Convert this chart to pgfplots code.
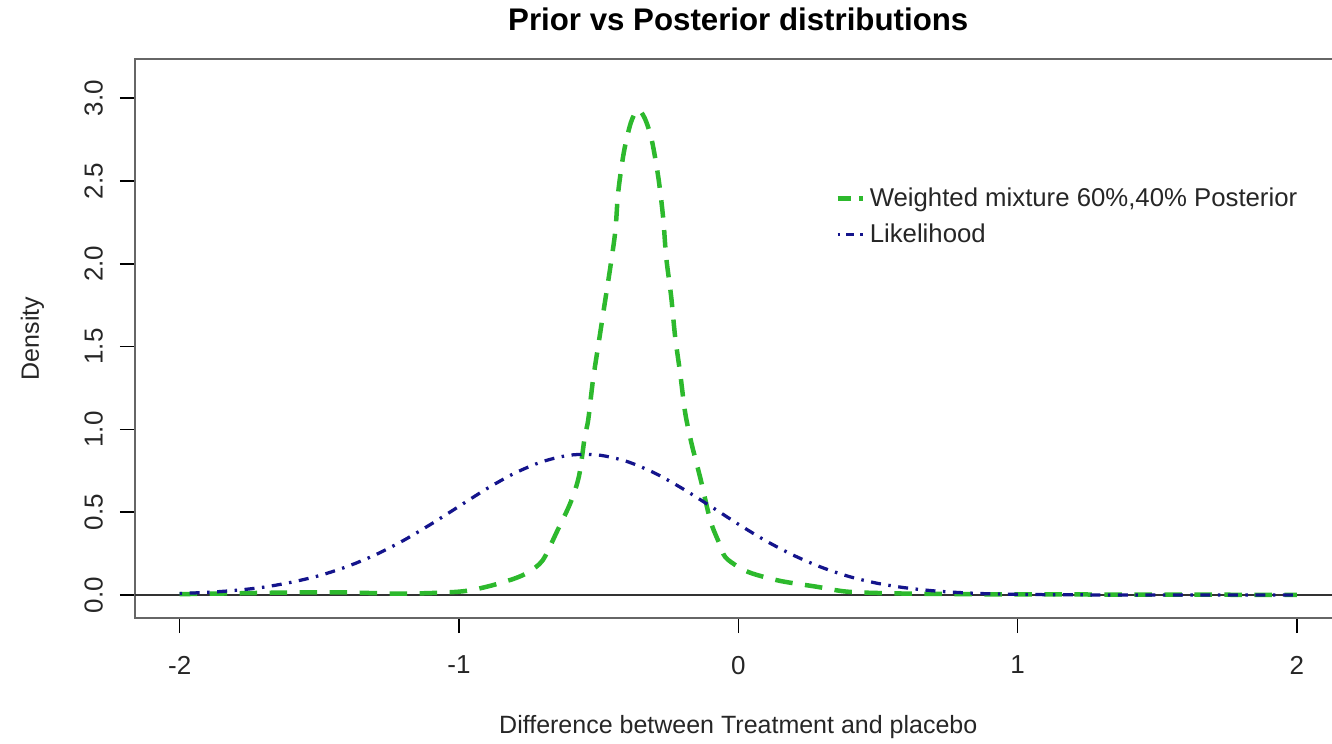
\documentclass[border=0pt]{standalone}
\usepackage{fontspec}
\setmainfont{Liberation Sans}
\usepackage{pgfplots}
\pgfplotsset{compat=1.18}
\definecolor{rgreen}{RGB}{45,185,45}
\definecolor{rblue}{RGB}{20,20,140}
\begin{document}
\begin{tikzpicture}
\begin{axis}[
  scale only axis, width=482.6pt, height=223.6pt,
  xmin=-2.16, xmax=2.16, ymin=-0.139, ymax=3.237,
  axis line style={draw=black!60, line width=1pt},
  tick align=outside, major tick length=6pt,
  tick style={black, line width=0.6pt},
  xtick={-2,-1,0,1,2}, ytick={0,0.5,1,1.5,2,2.5,3},
  xtick pos=bottom, ytick pos=left,
  /pgf/number format/assume math mode=true,
  ticklabel style={font=\fontsize{10.4}{12}\selectfont, text=black!85},
  xticklabel style={anchor=north, inner sep=0pt},
  xticklabel shift=9pt,
  yticklabel style={rotate=90, anchor=south, inner sep=0pt,
    /pgf/number format/fixed, /pgf/number format/fixed zerofill,
    /pgf/number format/precision=1},
  yticklabel shift=6.6pt,
  title={Prior vs Posterior distributions},
  title style={font=\fontsize{12.5}{14}\selectfont\bfseries, at={(axis description cs:0.5,1)}, anchor=base, yshift=5.4pt, inner sep=0pt},
  xlabel={Difference between Treatment and placebo},
  xlabel style={font=\fontsize{10}{12}\selectfont, text=black!85, at={(axis description cs:0.5,0)}, anchor=base, yshift=-46pt, inner sep=0pt},
  ylabel={Density},
  ylabel style={font=\fontsize{10}{12}\selectfont, text=black!85, at={(axis description cs:-0.0796,0.5)}, anchor=base, rotate=0, inner sep=0pt},
  legend style={draw=none, fill=none, at={(axis description cs:0.58,0.78)}, anchor=north west,
    font=\fontsize{10.3}{12}\selectfont, text=black!85, row sep=1.5pt, inner sep=0pt, cells={anchor=west}},
]
\addplot[black!80, line width=0.8pt, forget plot] coordinates {(-2.16,0) (2.16,0)};
\addplot[rgreen, line width=1.8pt, dash pattern=on 7pt off 5pt, smooth,
  legend image code/.code={\draw[rgreen, line width=1.8pt, dash pattern=on 5.5pt off 3pt] (0pt,0pt) -- (10pt,0pt);}]
coordinates {
(-2.0,0.005)(-1.8,0.01)(-1.6,0.015)(-1.4,0.015)(-1.2,0.008)(-1.0,0.02)(-0.9,0.05)(-0.8,0.1)(-0.75,0.14)(-0.7,0.21)(-0.65,0.38)(-0.6,0.56)(-0.57,0.72)(-0.55,0.95)(-0.537,1.06)(-0.52,1.3)(-0.5,1.52)(-0.48,1.74)(-0.458,1.98)(-0.44,2.2)(-0.43,2.43)(-0.41,2.67)(-0.385,2.85)(-0.36,2.93)(-0.335,2.88)(-0.31,2.75)(-0.286,2.52)(-0.269,2.28)(-0.258,2.04)(-0.24,1.8)(-0.226,1.56)(-0.208,1.34)(-0.19,1.1)(-0.168,0.92)(-0.15,0.8)(-0.132,0.68)(-0.1,0.45)(-0.07,0.32)(-0.047,0.23)(0.0,0.17)(0.05,0.13)(0.15,0.085)(0.28,0.05)(0.39,0.02)(0.55,0.01)(0.8,0.005)(1.0,0.004)(1.5,0.002)(2.0,0.001)
};
\addlegendentry{Weighted mixture 60\%,40\% Posterior}
\addplot[rblue, line width=1.3pt, dash pattern=on 1pt off 3pt on 4pt off 3pt, smooth,
  legend image code/.code={\draw[rblue, line width=1.3pt, dash pattern=on 1pt off 2.5pt on 3pt off 2.5pt] (0pt,0pt) -- (10pt,0pt);}]
coordinates {
(-2.0,0.009)(-1.9,0.016)(-1.8,0.028)(-1.7,0.047)(-1.6,0.077)(-1.5,0.117)(-1.4,0.172)(-1.3,0.242)(-1.2,0.328)(-1.1,0.428)(-1.0,0.535)(-0.9,0.642)(-0.8,0.736)(-0.7,0.806)(-0.6,0.845)(-0.5,0.845)(-0.4,0.807)(-0.3,0.737)(-0.2,0.643)(-0.1,0.537)(0.0,0.428)(0.1,0.326)(0.2,0.238)(0.3,0.166)(0.4,0.110)(0.5,0.070)(0.6,0.043)(0.7,0.025)(0.8,0.014)(0.9,0.007)(1.0,0.004)(1.1,0.002)(1.2,0.001)(1.4,0.0)(1.6,0.0)(1.8,0.0)(2.0,0.0)
};
\addlegendentry{Likelihood}
\end{axis}
\pgfresetboundingbox
\useasboundingbox (-54pt,-50pt) rectangle (478.8pt,247.2pt);
\end{tikzpicture}
\end{document}
